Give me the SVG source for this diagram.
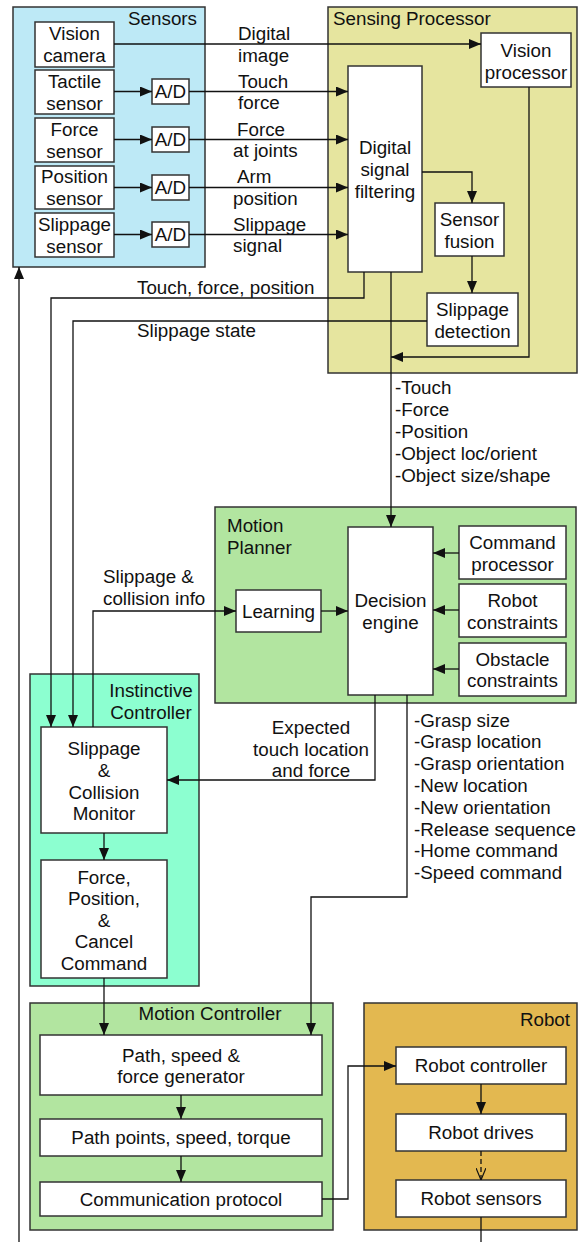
<svg xmlns="http://www.w3.org/2000/svg" width="581" height="1242" viewBox="0 0 581 1242">
  <style>
    text { font-family: "Liberation Sans", Arial, sans-serif; font-size: 18.8px; fill: #111; }
    .c { text-anchor: middle; }
    .r { text-anchor: end; }
    .box { fill: #ffffff; stroke: #333; stroke-width: 1.5; }
    .grp { stroke: #333; stroke-width: 1.5; }
    .sensors { fill: #bde9f6; }
    .sensing { fill: #e6e59f; }
    .planner { fill: #b2e5a0; }
    .instinct { fill: #8cffd0; }
    .robot { fill: #e3b850; }
    .ln { fill: none; stroke: #111; stroke-width: 1.3; }
    .arr { marker-end: url(#ah); }
    .dash { stroke-dasharray: 5 3; marker-end: url(#vh); }
  </style>
  <defs>
    <marker id="ah" viewBox="0 0 12 10" refX="12" refY="5" markerWidth="12" markerHeight="10" markerUnits="userSpaceOnUse" orient="auto">
      <path d="M0,0 L12,5 L0,10 z" fill="#111"/>
    </marker>
    <marker id="vh" viewBox="0 0 12 10" refX="12" refY="5" markerWidth="12" markerHeight="10" markerUnits="userSpaceOnUse" orient="auto">
      <path d="M0,0 L12,5 L0,10" fill="none" stroke="#111" stroke-width="1.2"/>
    </marker>
  </defs>

  <!-- Sensors -->
  <g id="sensors">
    <rect class="grp sensors" x="13" y="7" width="192" height="260"/>
    <text class="r" x="197" y="25">Sensors</text>
  </g>
  <g id="vision-camera">
    <rect class="box" x="35" y="22" width="79" height="45"/>
    <text class="c" x="74.5" y="40">Vision</text>
    <text class="c" x="74.5" y="62">camera</text>
  </g>
  <g id="tactile-sensor">
    <rect class="box" x="35" y="70" width="79" height="44"/>
    <text class="c" x="74.5" y="87.5">Tactile</text>
    <text class="c" x="74.5" y="109.5">sensor</text>
  </g>
  <g id="force-sensor">
    <rect class="box" x="35" y="118" width="79" height="44"/>
    <text class="c" x="74.5" y="135.5">Force</text>
    <text class="c" x="74.5" y="157.5">sensor</text>
  </g>
  <g id="position-sensor">
    <rect class="box" x="35" y="166" width="79" height="43"/>
    <text class="c" x="74.5" y="183">Position</text>
    <text class="c" x="74.5" y="205">sensor</text>
  </g>
  <g id="slippage-sensor">
    <rect class="box" x="35" y="213" width="79" height="44"/>
    <text class="c" x="74.5" y="230.5">Slippage</text>
    <text class="c" x="74.5" y="252.5">sensor</text>
  </g>
  <g id="ad-1"><rect class="box" x="152" y="79" width="37" height="25"/><text class="c" x="170.5" y="98">A/D</text></g>
  <g id="ad-2"><rect class="box" x="152" y="127" width="37" height="25"/><text class="c" x="170.5" y="146">A/D</text></g>
  <g id="ad-3"><rect class="box" x="152" y="175" width="37" height="25"/><text class="c" x="170.5" y="194">A/D</text></g>
  <g id="ad-4"><rect class="box" x="152" y="222" width="37" height="25"/><text class="c" x="170.5" y="241">A/D</text></g>

  <!-- Sensing Processor -->
  <g id="sensing-processor">
    <rect class="grp sensing" x="328" y="7" width="249" height="366"/>
    <text x="333" y="25">Sensing Processor</text>
  </g>
  <g id="vision-processor">
    <rect class="box" x="481" y="33" width="90" height="54"/>
    <text class="c" x="526" y="56.5">Vision</text>
    <text class="c" x="526" y="78.5">processor</text>
  </g>
  <g id="digital-signal-filtering">
    <rect class="box" x="348" y="66" width="74" height="206"/>
    <text class="c" x="385" y="154">Digital</text>
    <text class="c" x="385" y="176">signal</text>
    <text class="c" x="385" y="198">filtering</text>
  </g>
  <g id="sensor-fusion">
    <rect class="box" x="435" y="203" width="69" height="53"/>
    <text class="c" x="469.5" y="226">Sensor</text>
    <text class="c" x="469.5" y="247.5">fusion</text>
  </g>
  <g id="slippage-detection">
    <rect class="box" x="427" y="293" width="91" height="53"/>
    <text class="c" x="472.5" y="316">Slippage</text>
    <text class="c" x="472.5" y="337.5">detection</text>
  </g>

  <!-- Motion Planner -->
  <g id="motion-planner">
    <rect class="grp planner" x="215" y="507" width="361" height="196"/>
    <text x="227" y="532">Motion</text>
    <text x="227" y="554">Planner</text>
  </g>
  <g id="learning">
    <rect class="box" x="236" y="590" width="85" height="42"/>
    <text class="c" x="278.5" y="617.5">Learning</text>
  </g>
  <g id="decision-engine">
    <rect class="box" x="348" y="527" width="85" height="168"/>
    <text class="c" x="390.5" y="607">Decision</text>
    <text class="c" x="390.5" y="629">engine</text>
  </g>
  <g id="command-processor">
    <rect class="box" x="459" y="526" width="107" height="53"/>
    <text class="c" x="512.5" y="549">Command</text>
    <text class="c" x="512.5" y="570.5">processor</text>
  </g>
  <g id="robot-constraints">
    <rect class="box" x="459" y="584" width="107" height="53"/>
    <text class="c" x="512.5" y="607">Robot</text>
    <text class="c" x="512.5" y="628.5">constraints</text>
  </g>
  <g id="obstacle-constraints">
    <rect class="box" x="459" y="643" width="107" height="53"/>
    <text class="c" x="512.5" y="665.5">Obstacle</text>
    <text class="c" x="512.5" y="687">constraints</text>
  </g>

  <!-- Instinctive Controller -->
  <g id="instinctive-controller">
    <rect class="grp instinct" x="30" y="674" width="169" height="312"/>
    <text class="c" x="151" y="697">Instinctive</text>
    <text class="c" x="151" y="719">Controller</text>
  </g>
  <g id="slippage-collision-monitor">
    <rect class="box" x="41" y="727" width="126" height="106"/>
    <text class="c" x="104" y="755">Slippage</text>
    <text class="c" x="104" y="777">&amp;</text>
    <text class="c" x="104" y="798.5">Collision</text>
    <text class="c" x="104" y="820">Monitor</text>
  </g>
  <g id="force-position-cancel">
    <rect class="box" x="41" y="860" width="126" height="118"/>
    <text class="c" x="104" y="883.5">Force,</text>
    <text class="c" x="104" y="905">Position,</text>
    <text class="c" x="104" y="926.5">&amp;</text>
    <text class="c" x="104" y="948">Cancel</text>
    <text class="c" x="104" y="969.5">Command</text>
  </g>

  <!-- Motion Controller -->
  <g id="motion-controller">
    <rect class="grp planner" x="30" y="1003" width="303" height="227"/>
    <text class="c" x="210" y="1019.5">Motion Controller</text>
  </g>
  <g id="path-speed-force-generator">
    <rect class="box" x="40" y="1035" width="282" height="60"/>
    <text class="c" x="181" y="1061.5">Path, speed &amp;</text>
    <text class="c" x="181" y="1083">force generator</text>
  </g>
  <g id="path-points">
    <rect class="box" x="40" y="1119" width="282" height="37"/>
    <text class="c" x="181" y="1144">Path points, speed, torque</text>
  </g>
  <g id="communication-protocol">
    <rect class="box" x="40" y="1182" width="282" height="34"/>
    <text class="c" x="181" y="1205.5">Communication protocol</text>
  </g>

  <!-- Robot -->
  <g id="robot">
    <rect class="grp robot" x="364" y="1003" width="213" height="227"/>
    <text class="r" x="570" y="1025.5">Robot</text>
  </g>
  <g id="robot-controller">
    <rect class="box" x="396" y="1047" width="170" height="37"/>
    <text class="c" x="481" y="1072">Robot controller</text>
  </g>
  <g id="robot-drives">
    <rect class="box" x="396" y="1114" width="170" height="37"/>
    <text class="c" x="481" y="1139">Robot drives</text>
  </g>
  <g id="robot-sensors">
    <rect class="box" x="396" y="1180" width="170" height="37"/>
    <text class="c" x="481" y="1205">Robot sensors</text>
  </g>

  <!-- Connectors -->
  <g id="connectors">
    <path class="ln arr" d="M114,44 H481"/>
    <path class="ln arr" d="M114,91.5 H152"/>
    <path class="ln arr" d="M114,139.5 H152"/>
    <path class="ln arr" d="M114,187.5 H152"/>
    <path class="ln arr" d="M114,234.5 H152"/>
    <path class="ln arr" d="M189,91.5 H348"/>
    <path class="ln arr" d="M189,139.5 H348"/>
    <path class="ln arr" d="M189,187.5 H348"/>
    <path class="ln arr" d="M189,234.5 H348"/>
    <path class="ln arr" d="M422,172 H472 V203"/>
    <path class="ln arr" d="M472,256 V293"/>
    <path class="ln arr" d="M529,87 V357 H391"/>
    <path class="ln arr" d="M391,272 V527"/>
    <path class="ln arr" d="M364,272 V298 H51 V727"/>
    <path class="ln arr" d="M427,321 H73 V727"/>
    <path class="ln arr" d="M93,727 V611 H236"/>
    <path class="ln arr" d="M321,611 H348"/>
    <path class="ln arr" d="M459,553 H433"/>
    <path class="ln arr" d="M459,610 H433"/>
    <path class="ln arr" d="M459,669 H433"/>
    <path class="ln arr" d="M375,695 V780 H167"/>
    <path class="ln arr" d="M407,695 V897 H311 V1035"/>
    <path class="ln arr" d="M104,833 V860"/>
    <path class="ln arr" d="M104,978 V1035"/>
    <path class="ln arr" d="M181,1095 V1119"/>
    <path class="ln arr" d="M181,1156 V1182"/>
    <path class="ln arr" d="M322,1199 H348 V1066 H396"/>
    <path class="ln arr" d="M481,1084 V1114"/>
    <path class="ln dash" d="M481,1151 V1180"/>
    <path class="ln" d="M481,1217 V1242"/>
    <path class="ln arr" d="M19,1242 V267"/>

    <!-- connector labels -->
    <text x="238" y="40">Digital</text>
    <text x="238" y="62">image</text>
    <text x="238" y="88">Touch</text>
    <text x="238" y="109">force</text>
    <text x="237" y="136">Force</text>
    <text x="233" y="157">at joints</text>
    <text x="237" y="183">Arm</text>
    <text x="233" y="205">position</text>
    <text x="233" y="231">Slippage</text>
    <text x="233" y="252">signal</text>
    <text x="137" y="294">Touch, force, position</text>
    <text x="137" y="337">Slippage state</text>
    <text x="395" y="393.5">-Touch</text>
    <text x="395" y="415.5">-Force</text>
    <text x="395" y="437.5">-Position</text>
    <text x="395" y="459.5">-Object loc/orient</text>
    <text x="395" y="481.5">-Object size/shape</text>
    <text x="103" y="583">Slippage &amp;</text>
    <text x="103" y="604.5">collision info</text>
    <text class="c" x="311" y="734">Expected</text>
    <text class="c" x="311" y="755.5">touch location</text>
    <text class="c" x="311" y="777">and force</text>
    <text x="414" y="726.5">-Grasp size</text>
    <text x="414" y="748.3">-Grasp location</text>
    <text x="414" y="770.1">-Grasp orientation</text>
    <text x="414" y="791.9">-New location</text>
    <text x="414" y="813.7">-New orientation</text>
    <text x="414" y="835.5">-Release sequence</text>
    <text x="414" y="857.3">-Home command</text>
    <text x="414" y="879.1">-Speed command</text>
  </g>
</svg>
